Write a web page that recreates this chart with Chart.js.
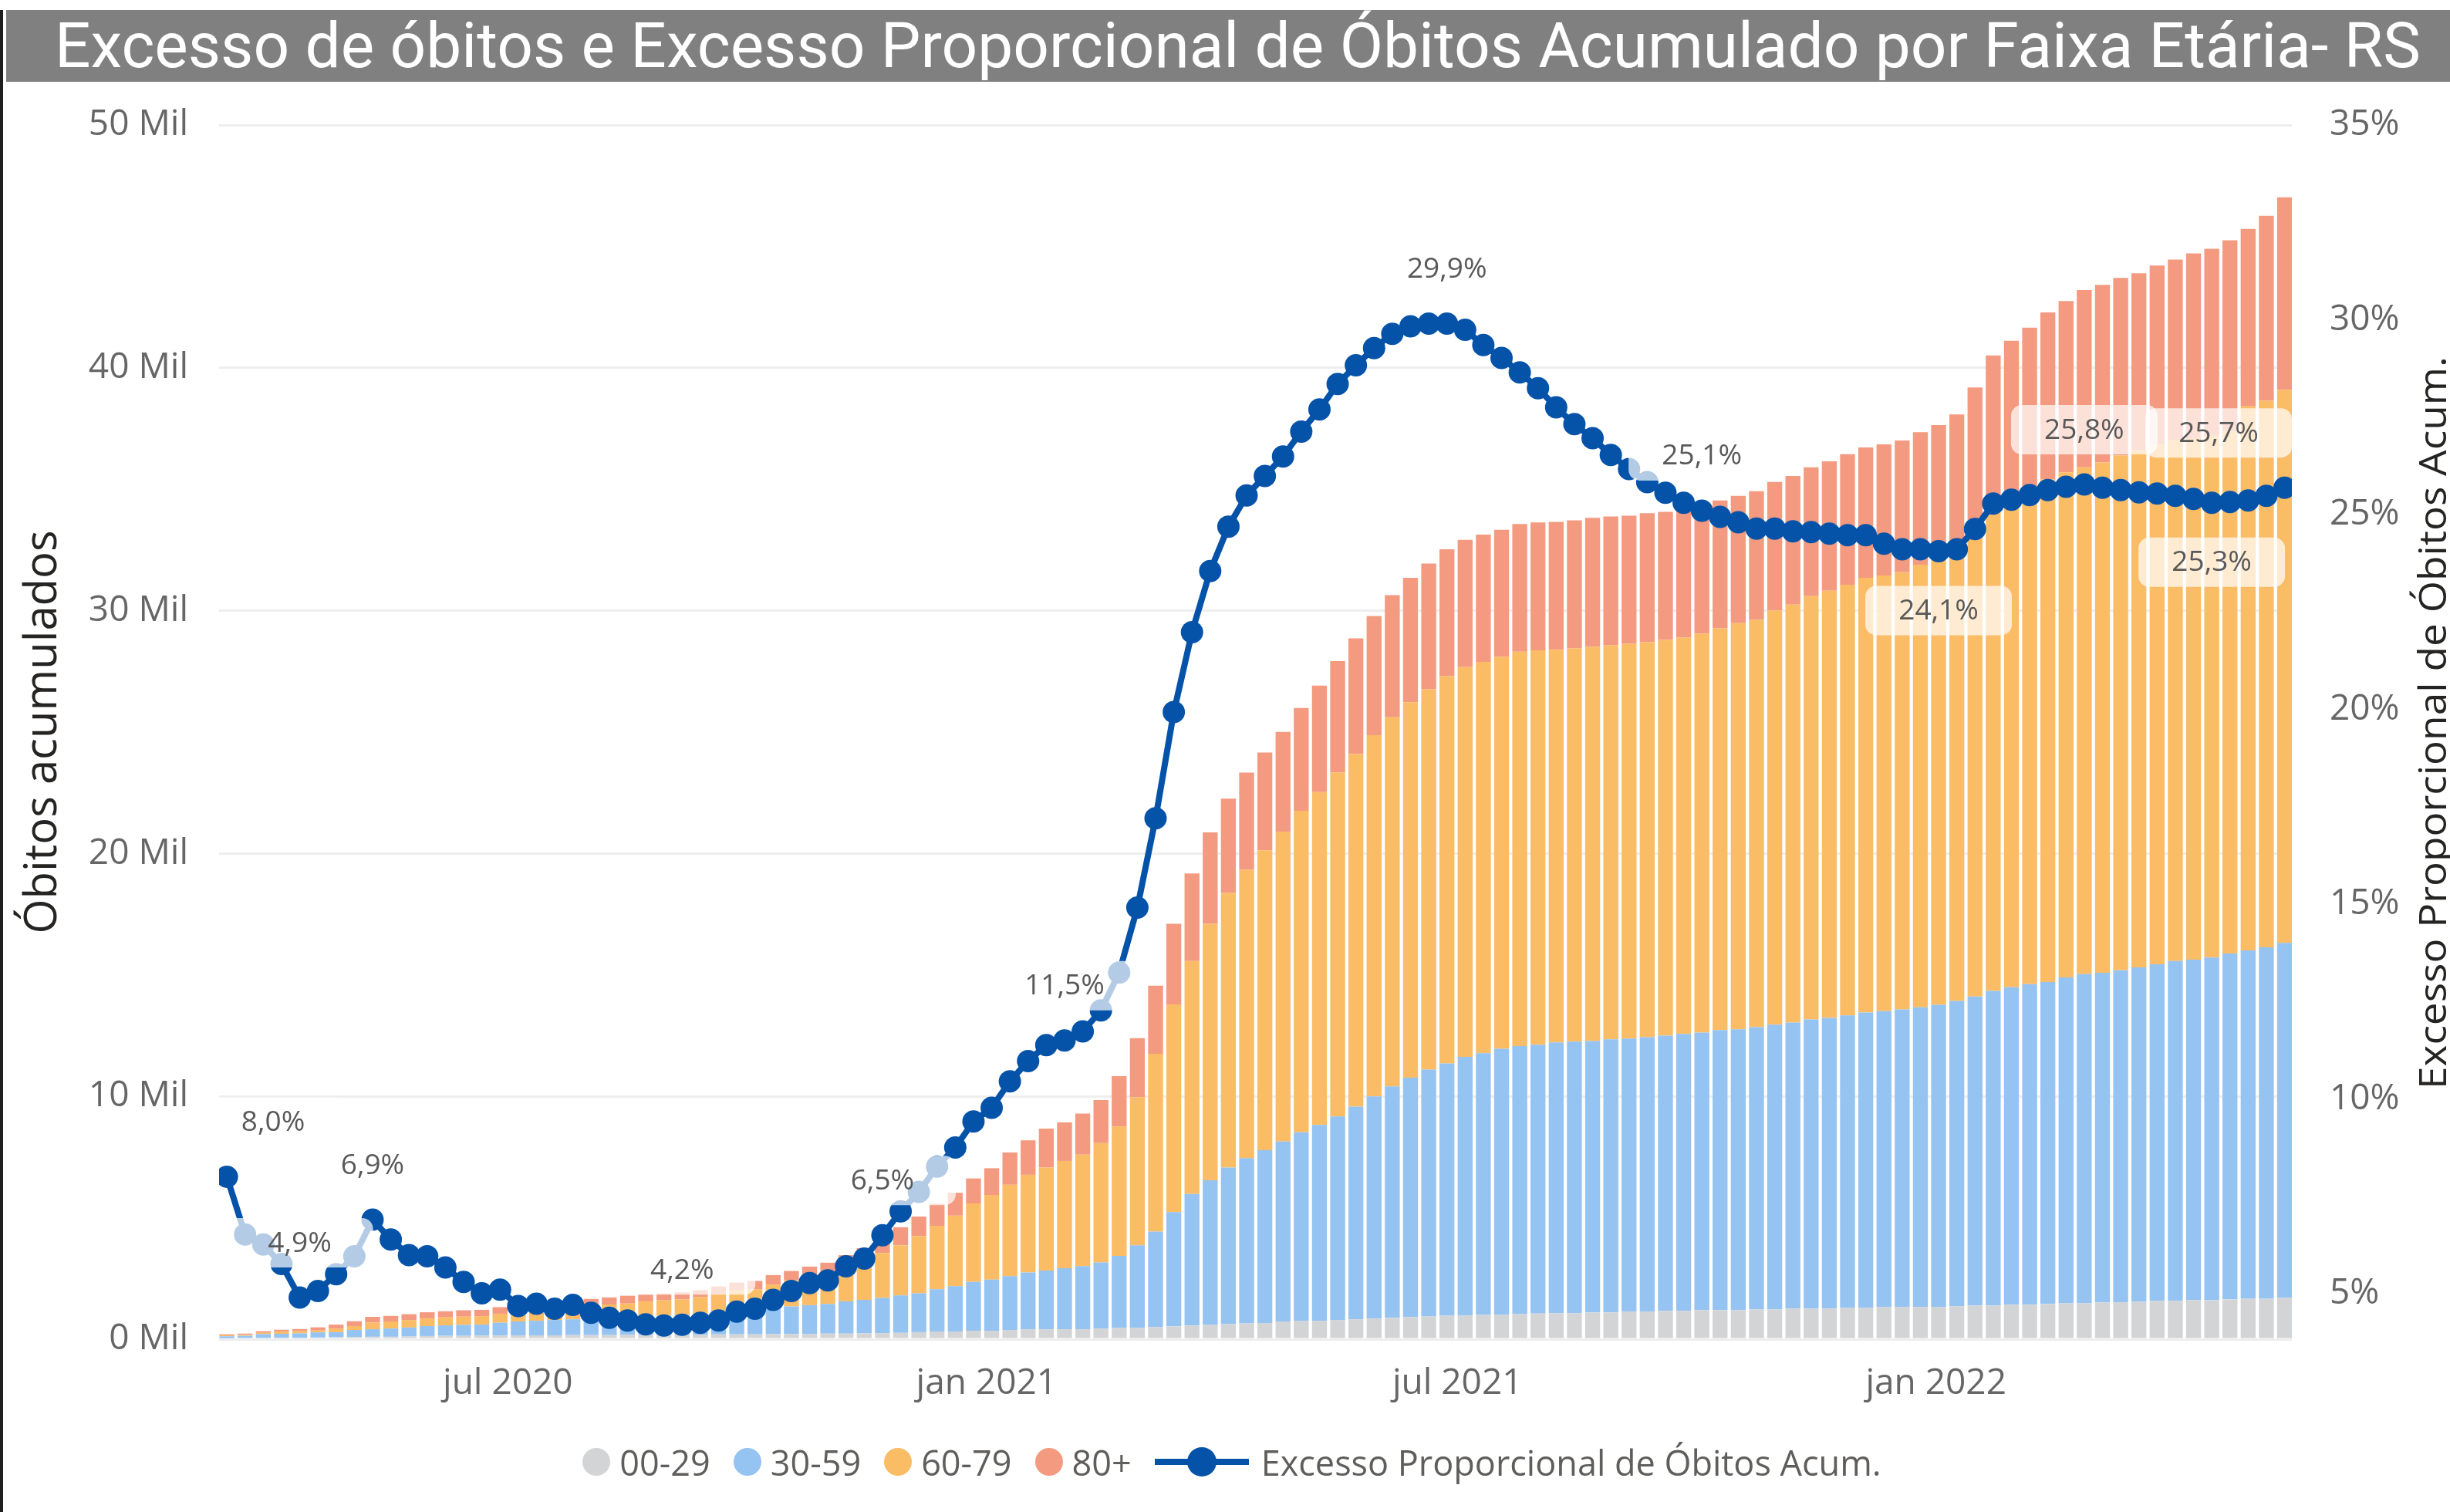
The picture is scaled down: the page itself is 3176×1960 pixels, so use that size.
<!DOCTYPE html>
<html>
<head>
<meta charset="utf-8">
<script src="https://cdn.jsdelivr.net/npm/chart.js@4.4.1/dist/chart.umd.min.js"></script>
<style>
  html, body { margin: 0; padding: 0; background: #fff; }
  body { width: 3176px; height: 1960px; position: relative; overflow: hidden; font-family: 'Open Sans', sans-serif; }
  #frame { position: absolute; left: 0; top: 13px; bottom: 0; width: 4px; background: #1e1e1e; }
  #title { position: absolute; left: 8px; top: 13px; width: 3168px; height: 93px; background: #808080; color: #fff;
           font-family: Roboto, sans-serif; font-size: 82px; line-height: 93px; white-space: nowrap; overflow: hidden; }
  #title span { display: inline-block; margin-left: 63px; transform-origin: 0 50%; }
  canvas { position: absolute; left: 0; top: 0; }
  #legend { position: absolute; left: 0; top: 1867px; width: 3176px; height: 56px; padding-left: 18px; box-sizing: border-box;
            display: flex; justify-content: center; align-items: center; font-size: 45px; color: #605E5C; }
  .item { display: flex; align-items: center; margin-right: 30px; }
  .item:last-child { margin-right: 0; }
  .dot { width: 36px; height: 36px; border-radius: 50%; margin-right: 12px; }
  .ln { position: relative; width: 122px; height: 8px; margin-right: 16px; }
  .ln i { position: absolute; left: 42px; top: -15px; width: 38px; height: 38px; border-radius: 50%; }
</style>
</head>
<body>
<div id="frame"></div>
<canvas id="chart" width="3176" height="1960"></canvas>
<div id="title"><span>Excesso de óbitos e Excesso Proporcional de Óbitos Acumulado por Faixa Etária- RS</span></div>
<div id="legend"></div>
<script>
// óbitos acumulados por semana (excesso), por faixa etária
const g00_29 = [40,50,50,60,60,70,80,90,100,100,110,130,140,140,150,150,160,160,160,170,170,170,180,180,180,190,190,200,200,200,210,210,220,230,230,240,250,
  260,290,320,320,350,350,380,410,410,410,410,440,470,470,500,530,560,590,620,650,670,730,760,760,790,820,850,880,910,940,970,970,1000,1000,1030,1060,
  1070,1070,1100,1100,1140,1140,1170,1170,1200,1200,1200,1230,1230,1260,1260,1260,1290,1290,1330,1330,1330,1330,1360,1390,1390,1420,1420,1450,1480,1480,
  1520,1520,1550,1580,1580,1610,1610,1640,1670,1670,1710];
const g30_59 = [80,90,160,160,180,210,210,290,310,340,370,410,430,450,450,530,570,600,630,650,700,700,720,740,790,810,840,850,910,990,1080,1140,1180,1220,1330,1380,1450,
  1540,1600,1740,1860,2010,2100,2220,2340,2420,2510,2600,2720,2960,3400,3930,4700,5420,5950,6450,6810,7110,7410,7760,8060,8380,8760,9150,9530,9860,10160,10390,10660,10780,10960,11040,11070,
  11150,11180,11180,11250,11240,11300,11330,11400,11430,11530,11560,11620,11720,11780,11910,11970,12040,12160,12180,12250,12340,12440,12570,12720,12950,13070,13200,13260,13420,13550,
  13570,13670,13760,13860,13990,14020,14110,14240,14340,14470,14610];
const g60_79 = [40,40,50,90,90,80,150,160,280,290,310,320,330,340,350,370,400,420,450,470,530,560,570,640,630,640,710,800,900,860,960,1080,1170,1280,1380,1580,1850,
  2070,2360,2610,2910,3230,3490,3760,4020,4240,4420,4590,4920,5330,6100,7320,8560,9590,10570,11310,11870,12350,12760,13240,13710,14160,14520,14870,15200,15460,15670,15940,16050,16110,16140,16240,16240,
  16170,16200,16230,16230,16260,16260,16300,16320,16420,16540,16730,16770,17050,17210,17430,17590,17740,17900,17940,18000,18220,18410,18560,19190,19860,20210,20480,20690,20800,20870,
  21010,21210,21290,21400,21430,21470,21480,21500,22400,22500,22780];
const g80 = [40,50,70,80,90,130,160,200,230,230,240,250,250,260,260,270,270,270,260,290,260,290,320,280,280,290,280,320,320,350,390,380,420,420,520,550,600,
  740,800,910,940,1030,1100,1330,1420,1600,1590,1690,1770,2070,2430,2810,3320,3610,3760,3880,4000,4030,4110,4230,4380,4590,4760,4910,5030,5120,5170,5230,5240,5240,5230,5260,5260,
  5270,5270,5310,5300,5270,5310,5270,5270,5270,5270,5240,5300,5300,5300,5300,5330,5370,5370,5400,5430,5460,5460,5590,5890,6310,6410,6550,6880,7050,7300,
  7320,7300,7290,7370,7460,7610,7700,7870,7310,7620,7920];
// excesso proporcional acumulado (%)
const excessoPct = [8.0,6.52,6.26,5.76,4.9,5.07,5.5,5.96,6.9,6.39,5.99,5.96,5.67,5.3,5.01,5.1,4.68,4.74,4.61,4.71,4.51,4.38,4.31,4.21,4.18,4.2,4.25,4.31,4.54,4.61,4.84,5.07,5.27,5.34,5.7,5.9,6.5,
  7.11,7.61,8.26,8.75,9.42,9.77,10.45,10.97,11.38,11.5,11.73,12.27,13.24,14.91,17.2,19.93,21.98,23.55,24.69,25.49,25.99,26.49,27.13,27.7,28.35,28.83,29.27,29.64,29.83,29.9,29.9,29.74,29.35,29.02,28.65,28.24,
  27.75,27.32,26.96,26.53,26.17,25.83,25.56,25.3,25.1,24.94,24.8,24.64,24.64,24.57,24.55,24.51,24.47,24.47,24.25,24.11,24.11,24.06,24.11,24.63,25.28,25.38,25.5,25.63,25.71,25.77,
  25.69,25.63,25.57,25.54,25.48,25.4,25.3,25.32,25.36,25.48,25.69];
const labelIdx = [0, 4, 8, 25, 36, 46, 67, 81, 94, 102, 109, 113];
const labelBelow = [94, 109];

const tickDates = ['2020-07-01', '2021-01-01', '2021-07-01', '2022-01-01'];
const tickLabels = ['jul 2020', 'jan 2021', 'jul 2021', 'jan 2022'];
const rightTicks = [5, 10, 15, 20, 25, 30, 35];
const rightTitle = 'Excesso Proporcional de Óbitos Acum.';

// semanas (uma por barra), a partir de 15/03/2020
const firstWeek = Date.UTC(2020, 2, 15);
const weeks = g00_29.map((_, i) => new Date(firstWeek + i * 7 * 864e5).toISOString().slice(0, 10));
const dayOf = iso => (Date.parse(iso) - Date.UTC(2020, 0, 1)) / 864e5;
const xs = weeks.map(dayOf);
const pts = arr => arr.map((v, i) => ({ x: xs[i], y: v }));
const xMin = xs[0] - 3, xMax = xs[xs.length - 1] + 2.8;

const FONT = "'Open Sans', sans-serif";
Chart.defaults.font.family = FONT;

const barSet = (label, arr, color) => ({
  type: 'bar', label, data: pts(arr), backgroundColor: color, stack: 's', yAxisID: 'y', order: 2,
  barPercentage: 0.82, categoryPercentage: 1
});

const lineColor = '#0553A9';

const pctLabels = {
  id: 'pctLabels',
  afterDatasetsDraw(chart) {
    const { ctx, chartArea: a } = chart;
    const meta = chart.getDatasetMeta(4);
    ctx.save();
    ctx.beginPath();
    ctx.rect(a.left, a.top, a.right - a.left, a.bottom - a.top);
    ctx.clip();
    ctx.font = '37px ' + FONT;
    ctx.textAlign = 'center';
    ctx.textBaseline = 'middle';
    labelIdx.forEach(i => {
      const p = meta.data[i];
      const cx = Math.min(Math.max(p.x, a.left + 70), a.right - 95);
      const cy = p.y + (labelBelow.includes(i) ? 77 : -71);
      ctx.fillStyle = 'rgba(255,255,255,0.7)';
      ctx.beginPath();
      ctx.roundRect(cx - 95, cy - 32, 190, 64, 14);
      ctx.fill();
      ctx.fillStyle = '#595959';
      ctx.fillText(excessoPct[i].toFixed(1).replace('.', ',') + '%', cx, cy + 1);
    });
    ctx.restore();
  },
  // título do eixo direito, lido de baixo para cima como no original
  afterDraw(chart) {
    const { ctx, chartArea: a } = chart;
    ctx.save();
    ctx.font = '50px ' + FONT;
    const w = ctx.measureText(rightTitle).width;
    ctx.translate(3171, (a.top + a.bottom) / 2 - 12);
    ctx.rotate(-Math.PI / 2);
    ctx.scale(950 / w, 1);
    ctx.fillStyle = '#252423';
    ctx.textAlign = 'center';
    ctx.textBaseline = 'alphabetic';
    ctx.fillText(rightTitle, 0, 0);
    ctx.restore();
  }
};

const chart = new Chart(document.getElementById('chart'), {
  data: {
    datasets: [
      barSet('00-29', g00_29, '#D3D4D6'),
      barSet('30-59', g30_59, '#95C3F2'),
      barSet('60-79', g60_79, '#FBBC66'),
      barSet('80+', g80, '#F39A80'),
      {
        type: 'line', label: rightTitle, data: pts(excessoPct), yAxisID: 'y2', order: 0,
        borderColor: lineColor, backgroundColor: lineColor, borderWidth: 8, tension: 0,
        pointRadius: 14.5, pointBackgroundColor: lineColor, pointBorderWidth: 0
      }
    ]
  },
  options: {
    responsive: false,
    animation: false,
    devicePixelRatio: 1,
    layout: { padding: { top: 162, left: 0, right: 0, bottom: 0 } },
    plugins: { legend: { display: false }, tooltip: { enabled: false } },
    scales: {
      x: {
        type: 'linear', stacked: true, offset: false,
        min: xMin, max: xMax,
        grid: { display: false, offset: false }, border: { display: false },
        afterDataLimits: s => { s.min = xMin; s.max = xMax; },
        afterBuildTicks: s => { s.ticks = tickDates.map(d => ({ value: dayOf(d) })); },
        ticks: { callback: (v, i) => tickLabels[i], font: { size: 46 }, color: '#666666', padding: 22, maxRotation: 0, autoSkip: false },
        afterFit: s => { s.height = 224; }
      },
      y: {
        position: 'left', stacked: true, min: 0, max: 50000,
        grid: { color: '#EEEEEE', lineWidth: 3, drawTicks: false }, border: { display: false },
        ticks: { stepSize: 10000, callback: v => (v / 1000) + ' Mil', font: { size: 46 }, color: '#666666', padding: 40 },
        title: { display: true, text: 'Óbitos acumulados', color: '#252423', font: { size: 58 }, padding: { top: 22, bottom: 0 } },
        afterFit: s => { s.width = 284; }
      },
      y2: {
        position: 'right', min: 3.83, max: 35,
        grid: { display: false }, border: { display: false },
        afterBuildTicks: s => { s.ticks = rightTicks.map(v => ({ value: v })); },
        ticks: { callback: v => v + '%', font: { size: 46 }, color: '#666666', padding: 41 },
        afterFit: s => { s.width = 205; }
      }
    }
  },
  plugins: [pctLabels]
});

// legenda
const legend = document.getElementById('legend');
chart.data.datasets.forEach(ds => {
  const item = document.createElement('div');
  item.className = 'item';
  const mark = document.createElement('span');
  if (ds.type === 'line') {
    mark.className = 'ln';
    mark.style.background = ds.borderColor;
    const dot = document.createElement('i');
    dot.style.background = ds.borderColor;
    mark.appendChild(dot);
  } else {
    mark.className = 'dot';
    mark.style.background = ds.backgroundColor;
  }
  const txt = document.createElement('span');
  txt.textContent = ds.label;
  item.appendChild(mark);
  item.appendChild(txt);
  legend.appendChild(item);
});

// título ocupa a mesma largura do original
const t = document.querySelector('#title span');
t.style.transform = 'scaleX(' + (3067 / t.getBoundingClientRect().width) + ')';
</script>
</body>
</html>
